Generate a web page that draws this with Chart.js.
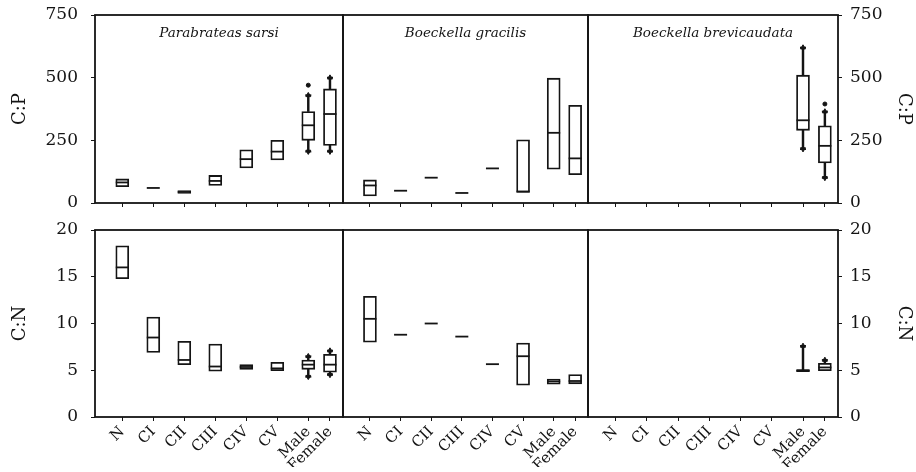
<!DOCTYPE html>
<html>
<head>
<meta charset="utf-8">
<title>C:P and C:N by developmental stage</title>
<script src="https://cdn.jsdelivr.net/npm/chart.js@4.4.1/dist/chart.umd.min.js"></script>
<style>
  html, body { margin: 0; padding: 0; background: #fff; }
  #wrap { position: relative; width: 916px; height: 472px; }
  #wrap canvas { position: absolute; left: 0; top: 0; }
</style>
</head>
<body>
<div id="wrap">
  <canvas id="c0" width="916" height="472"></canvas>
  <canvas id="c1" width="916" height="472"></canvas>
  <canvas id="c2" width="916" height="472"></canvas>
  <canvas id="c3" width="916" height="472"></canvas>
  <canvas id="c4" width="916" height="472"></canvas>
  <canvas id="c5" width="916" height="472"></canvas>
</div>
<script>
const stages = ["N", "CI", "CII", "CIII", "CIV", "CV", "Male", "Female"];
const stagePos = [1, 2, 3, 4, 5, 6, 7, 7.7];
const species = ["Parabrateas sarsi", "Boeckella gracilis", "Boeckella brevicaudata"];
const ratioTitles = ["C:P", "C:N"];
const cpTicks = [0, 250, 500, 750];
const cnTicks = [0, 5, 10, 15, 20];

// one entry per stage: [min, q1, median, q3, max], null whisker = none drawn
const cpSarsi = [
  [null, 65, 82, 96, null],
  [null, 60, 60, 60, null],
  [null, 38, 44, 50, null],
  [null, 70, 88, 110, null],
  [null, 140, 175, 212, null],
  [null, 172, 205, 250, null],
  [205, 250, 310, 365, 430],
  [205, 230, 355, 455, 500]
];
const cpGracilis = [
  [null, 28, 70, 92, null],
  [null, 49, 49, 49, null],
  [null, 101, 101, 101, null],
  [null, 40, 40, 40, null],
  [null, 138, 138, 138, null],
  [null, 42, 46, 252, null],
  [null, 135, 280, 498, null],
  [null, 113, 178, 390, null]
];
const cpBrevi = [
  null, null, null, null, null, null,
  [215, 290, 330, 510, 620],
  [100, 160, 228, 308, 365]
];
const cnSarsi = [
  [null, 14.8, 16, 18.3, null],
  [null, 6.9, 8.5, 10.7, null],
  [null, 5.6, 6.1, 8.1, null],
  [null, 4.9, 5.4, 7.8, null],
  [null, 5.1, 5.35, 5.6, null],
  [null, 4.95, 5.2, 5.85, null],
  [4.3, 5.1, 5.6, 6.1, 6.5],
  [4.5, 4.8, 5.6, 6.7, 7.1]
];
const cnGracilis = [
  [null, 8.0, 10.5, 12.9, null],
  [null, 8.8, 8.8, 8.8, null],
  [null, 10.0, 10.0, 10.0, null],
  [null, 8.6, 8.6, 8.6, null],
  [null, 5.65, 5.65, 5.65, null],
  [null, 3.4, 6.5, 7.9, null],
  [null, 3.5, 3.8, 4.05, null],
  [null, 3.55, 3.85, 4.55, null]
];
const cnBrevi = [
  null, null, null, null, null, null,
  [null, 4.85, 5.0, 5.05, 7.6],
  [null, 4.95, 5.3, 5.75, 6.1]
];

const cpSarsiOut = [null, null, null, null, null, null, 470, null];
const cpBreviOut = [null, null, null, null, null, null, null, 395];
const noOut = [null, null, null, null, null, null, null, null];

const ink = "#141414";
const serif = "'DejaVu Serif', 'Liberation Serif', serif";

// panel frames in page pixels
const colEdges = [[95, 343], [343, 588], [588, 838]];
const rowEdges = [[15, 203], [230, 417]];

const framePlugin = {
  id: "frame",
  afterDraw(chart) {
    const a = chart.chartArea;
    const ctx = chart.ctx;
    ctx.save();
    ctx.strokeStyle = ink;
    ctx.lineWidth = 1.8;
    ctx.strokeRect(a.left, a.top, a.right - a.left, a.bottom - a.top);
    const name = chart.options.plugins.frame.title;
    if (name) {
      ctx.fillStyle = ink;
      ctx.font = "italic 13.5px " + serif;
      ctx.textAlign = "center";
      ctx.textBaseline = "middle";
      ctx.fillText(name, (a.left + a.right) / 2, a.top + 18);
    }
    ctx.restore();
  }
};

function buildDatasets(boxes, outliers) {
  const upper = [], lower = [], bodies = [], medians = [], caps = [], tipsUp = [], tipsDown = [], dots = [];

  boxes.forEach((b, i) => {
    if (!b) {
      return;
    }
    const x = stagePos[i];
    const [lo, q1, med, q3, hi] = b;
    bodies.push({ x, y: [q1, q3] });
    medians.push({ x, y: med });
    if (hi !== null) {
      upper.push({ x, y: [q3, hi] });
      caps.push({ x, y: hi });
      tipsUp.push({ x, y: hi });
    }
    if (lo !== null) {
      lower.push({ x, y: [lo, q1] });
      caps.push({ x, y: lo });
      tipsDown.push({ x, y: lo });
    }
    if (outliers[i] !== null) {
      dots.push({ x, y: outliers[i] });
    }
  });

  const whisker = { type: "bar", backgroundColor: ink, borderWidth: 0, barThickness: 1.8, grouped: false, order: 6 };
  const point = (style, radius, extra) => Object.assign({
    type: "scatter", pointStyle: style, pointRadius: radius, pointHoverRadius: radius,
    borderColor: ink, backgroundColor: ink, borderWidth: 1, order: 2
  }, extra);

  return [
    Object.assign({ data: upper }, whisker),
    Object.assign({ data: lower }, whisker),
    {
      type: "bar", data: bodies, backgroundColor: "#fff", borderColor: ink,
      borderWidth: 1.8, borderSkipped: false, barThickness: 13, grouped: false, order: 5
    },
    point("line", 6.5, { data: medians, borderWidth: 1.8, order: 1 }),
    point("line", 3, { data: caps, borderWidth: 1.8 }),
    point("triangle", 2.8, { data: tipsUp }),
    point("triangle", 2.8, { data: tipsDown, rotation: 180 }),
    point("circle", 2, { data: dots })
  ];
}

function zeroPad(s) {
  s.paddingLeft = 0;
  s.paddingRight = 0;
  s.paddingTop = 0;
  s.paddingBottom = 0;
}

function makePanel(id, row, col, boxes, outliers) {
  const yTicks = row === 0 ? cpTicks : cnTicks;
  const xH = row === 1 ? 50 : 6;
  const yW = col === 0 ? 85 : col === 2 ? 76 : 0;
  const [x0, x1] = colEdges[col];
  const [y0, y1] = rowEdges[row];

  new Chart(document.getElementById(id), {
    type: "bar",
    data: { datasets: buildDatasets(boxes, outliers) },
    options: {
      responsive: false,
      animation: false,
      events: [],
      layout: {
        padding: {
          left: col === 0 ? x0 - yW : x0,
          right: col === 2 ? 916 - x1 - yW : 916 - x1,
          top: y0,
          bottom: 472 - y1 - xH
        }
      },
      plugins: {
        legend: { display: false },
        tooltip: { enabled: false },
        frame: { title: row === 0 ? species[col] : null }
      },
      scales: {
        x: {
          type: "linear",
          min: 0.12,
          max: 8.12,
          offset: false,
          afterBuildTicks: (s) => { s.ticks = stagePos.map((v) => ({ value: v })); },
          ticks: {
            display: row === 1,
            autoSkip: false,
            minRotation: 45,
            maxRotation: 45,
            padding: 2,
            color: ink,
            font: { family: serif, size: 15 },
            callback: (v, i) => stages[i]
          },
          grid: { offset: false, drawOnChartArea: false, drawTicks: true, tickLength: 4, color: ink, lineWidth: 1 },
          border: { display: false },
          afterFit: (s) => { s.height = xH; zeroPad(s); }
        },
        y: {
          type: "linear",
          display: col !== 1,
          position: col === 2 ? "right" : "left",
          min: yTicks[0],
          max: yTicks[yTicks.length - 1],
          afterBuildTicks: (s) => { s.ticks = yTicks.map((v) => ({ value: v })); },
          ticks: {
            padding: col === 2 ? 8 : 13,
            color: ink,
            font: { family: serif, size: 17 }
          },
          grid: { drawOnChartArea: false, drawTicks: true, tickLength: 4, color: ink, lineWidth: 1 },
          border: { display: false },
          title: {
            display: true,
            text: ratioTitles[row],
            color: ink,
            padding: 0,
            font: { family: serif, size: 18 }
          },
          afterFit: (s) => { s.width = yW; zeroPad(s); }
        }
      }
    },
    plugins: [framePlugin]
  });
}

makePanel("c0", 0, 0, cpSarsi, cpSarsiOut);
makePanel("c1", 0, 1, cpGracilis, noOut);
makePanel("c2", 0, 2, cpBrevi, cpBreviOut);
makePanel("c3", 1, 0, cnSarsi, noOut);
makePanel("c4", 1, 1, cnGracilis, noOut);
makePanel("c5", 1, 2, cnBrevi, noOut);
</script>
</body>
</html>
